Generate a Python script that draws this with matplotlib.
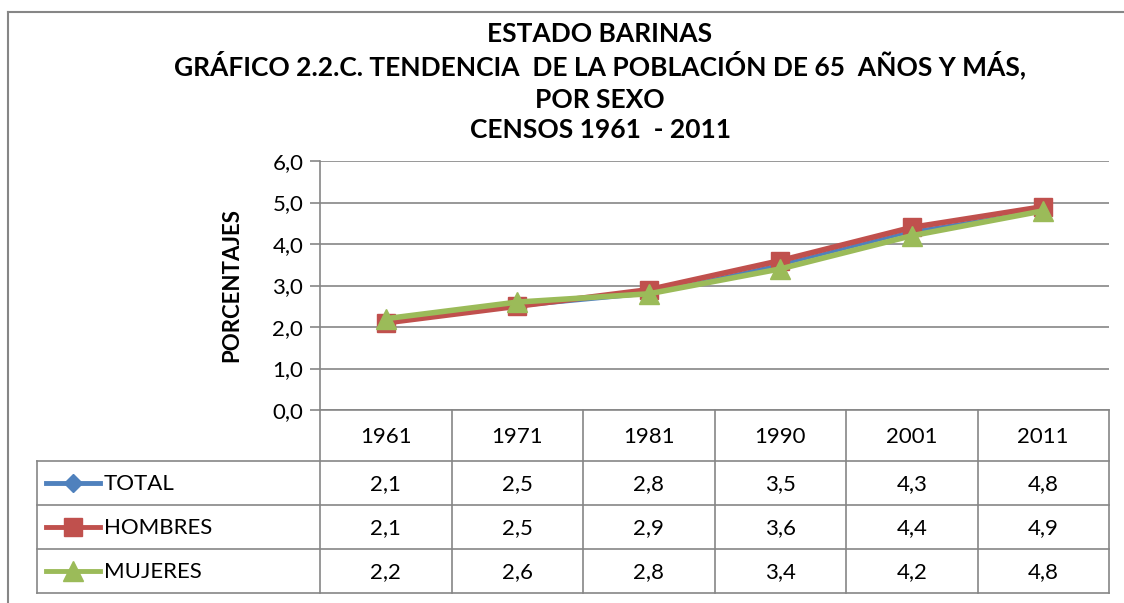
import matplotlib
matplotlib.use("Agg")
import matplotlib.pyplot as plt
from matplotlib.lines import Line2D

# ---- data ----
years = ["1961", "1971", "1981", "1990", "2001", "2011"]
total = [2.1, 2.5, 2.8, 3.5, 4.3, 4.8]
hombres = [2.1, 2.5, 2.9, 3.6, 4.4, 4.9]
mujeres = [2.2, 2.6, 2.8, 3.4, 4.2, 4.8]
series_names = ["TOTAL", "HOMBRES", "MUJERES"]
yticks = [0, 1, 2, 3, 4, 5, 6]
title_lines = ["ESTADO BARINAS",
               "GRÁFICO 2.2.C. TENDENCIA  DE LA POBLACIÓN DE 65  AÑOS Y MÁS,",
               "POR SEXO",
               "CENSOS 1961  - 2011"]
ylabel = "PORCENTAJES"

# ---- style ----
W, H = 1124, 603
BLUE, RED, GREEN = "#4F81BD", "#C0504D", "#9BBB59"
GRID = "#868686"
FONT = ["Lato", "DejaVu Sans"]
plt.rcParams["font.family"] = FONT

fig = plt.figure(figsize=(W / 100, H / 100), dpi=100)

# pixel layout
AX_L, AX_R, AX_T, AX_B = 320, 1109, 161, 410
ax = fig.add_axes([AX_L / W, 1 - AX_B / H, (AX_R - AX_L) / W, (AX_B - AX_T) / H])
n = len(years)
xs = [i + 0.5 for i in range(n)]
ax.set_xlim(0, n)
ax.set_ylim(0, 6)
ax.set_yticks(yticks)
ax.set_yticklabels([f"{v:.1f}".replace(".", ",") for v in yticks], fontsize=16)
ax.set_xticks([])
ax.grid(axis="y", color=GRID, linewidth=1.2)
ax.set_axisbelow(True)
for s in ["top", "right", "bottom"]:
    ax.spines[s].set_visible(False)
ax.spines["left"].set_color(GRID)
ax.spines["left"].set_linewidth(1.2)
ax.tick_params(axis="y", direction="out", length=7, width=1.2, color=GRID, pad=5)
ax.set_ylabel(ylabel, fontsize=16, fontweight="bold", labelpad=22)

styles = [(total, BLUE, "D", 2.5, 9), (hombres, RED, "s", 4.0, 13), (mujeres, GREEN, "^", 4.0, 14)]
for vals, c, m, lw, ms in styles:
    ax.plot(xs, vals, color=c, marker=m, linewidth=lw, markersize=ms,
            markeredgecolor=c, clip_on=False, zorder=3)

# overlay in pixel coords for frame + data table
ov = fig.add_axes([0, 0, 1, 1])
ov.set_xlim(0, W)
ov.set_ylim(H, 0)
ov.axis("off")
ov.patch.set_alpha(0)

# outer frame
ov.plot([8, 8], [12, H], color=GRID, lw=1.5)
ov.plot([8, W], [12, 12], color=GRID, lw=1.5)

# title (baselines)
ty = [42, 75, 108, 138]
for t, y in zip(title_lines, ty):
    ov.text(600, y, t, ha="center", va="baseline", fontsize=19, fontweight="bold")

# table
colw = (AX_R - AX_L) / n
cols = [AX_L + i * colw for i in range(n + 1)]
rows = [AX_B, 460.7, 505, 549, 593]
LEG_L = 37
lkw = dict(color=GRID, lw=1.2)
for cx in cols:
    ov.plot([cx, cx], [AX_B, rows[-1]], **lkw)
ov.plot([AX_L, AX_R], [AX_B, AX_B], **lkw)
for ry in rows[1:]:
    ov.plot([LEG_L, AX_R], [ry, ry], **lkw)
ov.plot([LEG_L, LEG_L], [rows[1], rows[-1]], **lkw)

for i, y in enumerate(years):
    ov.text((cols[i] + cols[i + 1]) / 2, (rows[0] + rows[1]) / 2 + 2, y,
            ha="center", va="center", fontsize=16)

for r, (name, (vals, c, m, lw, ms)) in enumerate(zip(series_names, styles)):
    yc = (rows[r + 1] + rows[r + 2]) / 2
    ov.add_line(Line2D([46, 100], [yc, yc], color=c, lw=3.5))
    ov.plot([73], [yc], marker=m, color=c, markersize=ms, markeredgecolor=c)
    ov.text(104, yc + 1, name, ha="left", va="center", fontsize=16)
    for i, v in enumerate(vals):
        ov.text((cols[i] + cols[i + 1]) / 2, yc + 1, f"{v:.1f}".replace(".", ","),
                ha="center", va="center", fontsize=16)

fig.savefig("out.png", dpi=100)
